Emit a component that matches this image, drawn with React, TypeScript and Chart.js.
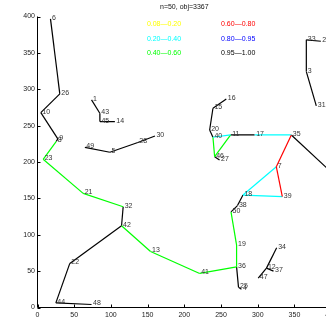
import React, { useEffect, useRef } from 'react';
import { Chart, registerables } from 'chart.js';

Chart.register(...registerables);

const titleText = 'n=50, obj=3367';

const nodeIds = [1, 2, 3, 4, 5, 6, 7, 8, 9, 10, 11, 12, 13, 14, 15, 16, 17, 18, 19, 20, 21, 22, 23, 24, 25, 26, 27, 28, 30, 31, 32, 33, 34, 35, 36, 37, 38, 39, 40, 41, 42, 43, 44, 45, 46, 47, 48, 49, 50];
const nodeX = [73.6, 386, 366.2, 277.8, 98.6, 17.7, 325.3, 25.6, 27.7, 4.5, 263.1, 311.9, 154, 105.4, 239, 257.2, 295.8, 279.9, 271.2, 234.5, 62.2, 44, 7.7, 398, 273.8, 30.4, 248, 136.7, 160, 379.8, 116.7, 366.2, 325.8, 345.8, 271.2, 321.5, 272.4, 333.5, 239, 220.9, 114.5, 84.9, 25, 85, 241.3, 300.7, 73.6, 64.5, 263.6];
const nodeY = [285.4, 366, 324.3, 25.2, 213.4, 396.8, 193.5, 228.3, 231.7, 267.9, 237.2, 54.1, 77, 255.5, 273.9, 286.7, 237.2, 154.6, 85.8, 244, 156.9, 60.6, 203.7, 188, 27.9, 293.6, 202.8, 226.8, 235.8, 277.1, 138.5, 367.9, 82, 237.2, 55.9, 50, 140.1, 152.3, 234, 46.8, 112.3, 267, 6.3, 255.5, 207.3, 40.3, 4.1, 220.2, 131.4];

const blackEdges: [number, number][] = [
  [6, 26], [26, 10], [10, 9], [9, 8], [1, 43], [43, 45], [45, 14], [49, 5], [5, 28], [28, 30],
  [16, 15], [15, 20], [20, 40], [11, 17], [46, 27], [35, 24], [33, 2], [33, 3], [3, 31],
  [18, 38], [38, 50], [32, 42], [42, 22], [22, 44], [44, 48], [36, 25], [25, 4],
  [34, 12], [12, 47], [12, 37],
];
const greenEdges: [number, number][] = [
  [8, 23], [23, 21], [21, 32], [42, 13], [13, 41], [41, 36], [36, 19], [19, 50], [40, 46], [46, 11],
];
const cyanEdges: [number, number][] = [[40, 11], [17, 35], [7, 18], [18, 39]];
const redEdges: [number, number][] = [[35, 7], [7, 39]];

const legendLabels = ['0.08—0.20', '0.20—0.40', '0.40—0.60', '0.60—0.80', '0.80—0.95', '0.95—1.00'];
const legendColors = ['#ffff00', '#00ffff', '#00ff00', '#ff0000', '#0000ff', '#000000'];
const legendX = [149, 149, 149, 250, 250, 250];
const legendY = [390, 369, 350, 390, 369, 350];

const xTicks = [0, 50, 100, 150, 200, 250, 300, 350, 400];
const yTicks = [0, 50, 100, 150, 200, 250, 300, 350, 400];

const FONT = "7px 'Liberation Sans', Arial, sans-serif";

function pt(id: number) {
  const i = nodeIds.indexOf(id);
  return { x: nodeX[i], y: nodeY[i] };
}

function edgeSets(edges: [number, number][], color: string) {
  return edges.map(([a, b]) => ({
    data: [pt(a), pt(b)],
    showLine: true,
    borderColor: color,
    backgroundColor: color,
    borderWidth: 1.2,
    pointRadius: 0,
    pointHoverRadius: 0,
  }));
}

const overlay = {
  id: 'overlay',
  afterDraw(chart: any) {
    const { ctx } = chart;
    const xs = chart.scales.x;
    const ys = chart.scales.y;
    ctx.save();
    const left = xs.getPixelForValue(0);
    const bottom = ys.getPixelForValue(0);
    const top = ys.getPixelForValue(400);
    const right = xs.getPixelForValue(400);
    ctx.strokeStyle = '#000';
    ctx.lineWidth = 1;
    ctx.beginPath();
    ctx.moveTo(left, top);
    ctx.lineTo(left, bottom);
    ctx.lineTo(right, bottom);
    ctx.stroke();
    ctx.beginPath();
    yTicks.forEach((v) => {
      const py = Math.round(ys.getPixelForValue(v)) + 0.5;
      ctx.moveTo(left, py);
      ctx.lineTo(left + 3, py);
    });
    xTicks.forEach((v) => {
      const px = Math.round(xs.getPixelForValue(v)) + 0.5;
      ctx.moveTo(px, bottom);
      ctx.lineTo(px, bottom - 3);
    });
    ctx.stroke();
    ctx.font = FONT;
    ctx.fillStyle = '#222';
    ctx.textAlign = 'right';
    ctx.textBaseline = 'middle';
    yTicks.forEach((v) => ctx.fillText(String(v), left - 2.5, ys.getPixelForValue(v)));
    ctx.textAlign = 'center';
    xTicks.forEach((v) => ctx.fillText(String(v), xs.getPixelForValue(v), bottom + 8));
    // title
    ctx.fillStyle = '#111';
    ctx.fillText(titleText, xs.getPixelForValue(200), 7);
    // legend texts
    ctx.textAlign = 'left';
    legendLabels.forEach((t, i) => {
      ctx.fillStyle = legendColors[i];
      ctx.fillText(t, xs.getPixelForValue(legendX[i]), ys.getPixelForValue(legendY[i]));
    });
    // node labels
    ctx.fillStyle = '#333';
    nodeIds.forEach((id, i) => {
      ctx.fillText(String(id), xs.getPixelForValue(nodeX[i]) + 1.5, ys.getPixelForValue(nodeY[i]) - 1);
    });
    ctx.restore();
  },
};

export default function App() {
  const ref = useRef<HTMLCanvasElement | null>(null);
  useEffect(() => {
    document.body.style.margin = '0';
    const canvas = ref.current;
    if (!canvas) return;
    const datasets = [
      ...edgeSets(redEdges, '#ff0000'),
      ...edgeSets(cyanEdges, '#00ffff'),
      ...edgeSets(greenEdges, '#00ff00'),
      ...edgeSets(blackEdges, '#000000'),
    ];
    const chart = new Chart(canvas, {
      type: 'scatter',
      data: { datasets },
      options: {
        responsive: false,
        animation: false,
        devicePixelRatio: 1,
        layout: { padding: { left: 37.5, top: 16.5, right: 0, bottom: 15.5 } },
        plugins: { legend: { display: false }, tooltip: { enabled: false }, title: { display: false } },
        scales: {
          x: { type: 'linear', min: 0, max: 393, display: false },
          y: { type: 'linear', min: 0, max: 400, display: false },
        },
        events: [],
      },
      plugins: [overlay],
    } as any);
    return () => chart.destroy();
  }, []);
  return (
    <div style={{ position: 'absolute', left: 0, top: 0, width: 326, height: 323, background: '#fff' }}>
      <canvas ref={ref} width={326} height={323} style={{ width: 326, height: 323, display: 'block' }} />
    </div>
  );
}
